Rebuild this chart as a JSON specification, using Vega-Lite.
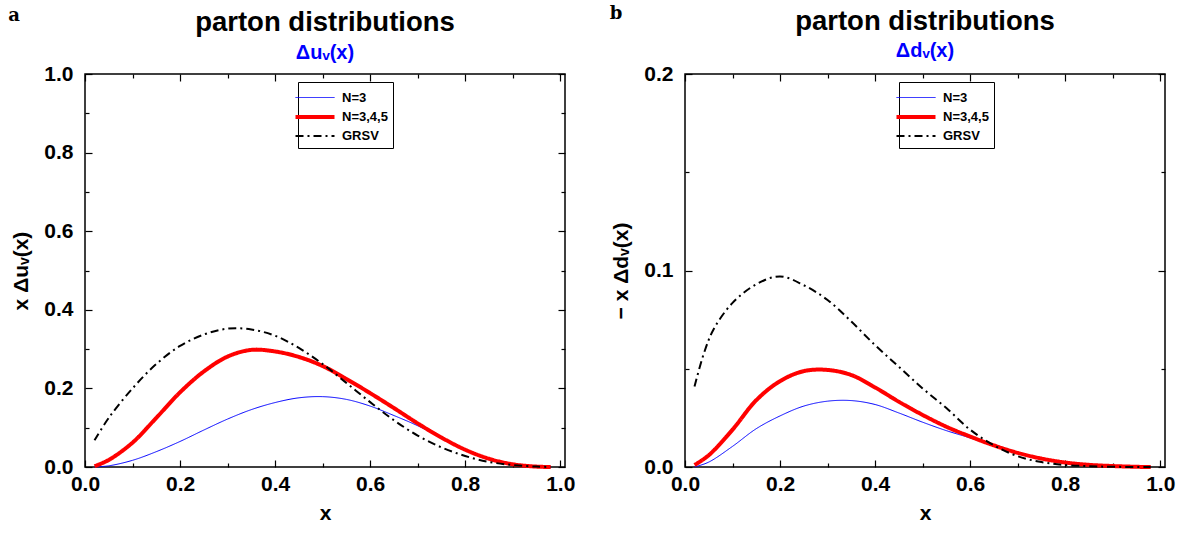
{
  "$schema": "https://vega.github.io/schema/vega-lite/v6.json",
  "background": "white",
  "padding": {"left": 7, "top": 4, "right": 5, "bottom": 5},
  "spacing": 33,
  "datasets": {
    "a": [
      {"series": "N=3", "x": 0.02, "y": 0.0003}, {"series": "N=3", "x": 0.05, "y": 0.003}, {"series": "N=3", "x": 0.1, "y": 0.017}, {"series": "N=3", "x": 0.15, "y": 0.039}, {"series": "N=3", "x": 0.2, "y": 0.065}, {"series": "N=3", "x": 0.25, "y": 0.094}, {"series": "N=3", "x": 0.3, "y": 0.122}, {"series": "N=3", "x": 0.35, "y": 0.146}, {"series": "N=3", "x": 0.4, "y": 0.164}, {"series": "N=3", "x": 0.45, "y": 0.176}, {"series": "N=3", "x": 0.5, "y": 0.179}, {"series": "N=3", "x": 0.55, "y": 0.172}, {"series": "N=3", "x": 0.6, "y": 0.155}, {"series": "N=3", "x": 0.65, "y": 0.131}, {"series": "N=3", "x": 0.7, "y": 0.105}, {"series": "N=3", "x": 0.75, "y": 0.074}, {"series": "N=3", "x": 0.8, "y": 0.045}, {"series": "N=3", "x": 0.85, "y": 0.022}, {"series": "N=3", "x": 0.9, "y": 0.007}, {"series": "N=3", "x": 0.95, "y": 0.001}, {"series": "N=3", "x": 0.98, "y": 0.0},
      {"series": "N=3,4,5", "x": 0.02, "y": 0.002}, {"series": "N=3,4,5", "x": 0.05, "y": 0.018}, {"series": "N=3,4,5", "x": 0.1, "y": 0.062}, {"series": "N=3,4,5", "x": 0.15, "y": 0.125}, {"series": "N=3,4,5", "x": 0.2, "y": 0.19}, {"series": "N=3,4,5", "x": 0.25, "y": 0.243}, {"series": "N=3,4,5", "x": 0.3, "y": 0.281}, {"series": "N=3,4,5", "x": 0.35, "y": 0.298}, {"series": "N=3,4,5", "x": 0.4, "y": 0.294}, {"series": "N=3,4,5", "x": 0.45, "y": 0.28}, {"series": "N=3,4,5", "x": 0.5, "y": 0.257}, {"series": "N=3,4,5", "x": 0.55, "y": 0.224}, {"series": "N=3,4,5", "x": 0.6, "y": 0.188}, {"series": "N=3,4,5", "x": 0.65, "y": 0.15}, {"series": "N=3,4,5", "x": 0.7, "y": 0.111}, {"series": "N=3,4,5", "x": 0.75, "y": 0.075}, {"series": "N=3,4,5", "x": 0.8, "y": 0.044}, {"series": "N=3,4,5", "x": 0.85, "y": 0.021}, {"series": "N=3,4,5", "x": 0.9, "y": 0.007}, {"series": "N=3,4,5", "x": 0.95, "y": 0.001}, {"series": "N=3,4,5", "x": 0.98, "y": 0.0},
      {"series": "GRSV", "x": 0.02, "y": 0.068}, {"series": "GRSV", "x": 0.05, "y": 0.125}, {"series": "GRSV", "x": 0.1, "y": 0.2}, {"series": "GRSV", "x": 0.15, "y": 0.262}, {"series": "GRSV", "x": 0.2, "y": 0.308}, {"series": "GRSV", "x": 0.25, "y": 0.337}, {"series": "GRSV", "x": 0.3, "y": 0.352}, {"series": "GRSV", "x": 0.35, "y": 0.35}, {"series": "GRSV", "x": 0.4, "y": 0.334}, {"series": "GRSV", "x": 0.45, "y": 0.303}, {"series": "GRSV", "x": 0.5, "y": 0.262}, {"series": "GRSV", "x": 0.55, "y": 0.214}, {"series": "GRSV", "x": 0.6, "y": 0.165}, {"series": "GRSV", "x": 0.65, "y": 0.119}, {"series": "GRSV", "x": 0.7, "y": 0.08}, {"series": "GRSV", "x": 0.75, "y": 0.05}, {"series": "GRSV", "x": 0.8, "y": 0.028}, {"series": "GRSV", "x": 0.85, "y": 0.013}, {"series": "GRSV", "x": 0.9, "y": 0.005}, {"series": "GRSV", "x": 0.95, "y": 0.001}, {"series": "GRSV", "x": 0.98, "y": 0.0}
    ],
    "b": [
      {"series": "N=3", "x": 0.02, "y": 0.0}, {"series": "N=3", "x": 0.05, "y": 0.0025}, {"series": "N=3", "x": 0.1, "y": 0.0105}, {"series": "N=3", "x": 0.15, "y": 0.0195}, {"series": "N=3", "x": 0.2, "y": 0.026}, {"series": "N=3", "x": 0.25, "y": 0.031}, {"series": "N=3", "x": 0.3, "y": 0.0335}, {"series": "N=3", "x": 0.35, "y": 0.0338}, {"series": "N=3", "x": 0.4, "y": 0.0318}, {"series": "N=3", "x": 0.45, "y": 0.0275}, {"series": "N=3", "x": 0.5, "y": 0.0228}, {"series": "N=3", "x": 0.55, "y": 0.0185}, {"series": "N=3", "x": 0.6, "y": 0.0148}, {"series": "N=3", "x": 0.65, "y": 0.0108}, {"series": "N=3", "x": 0.7, "y": 0.007}, {"series": "N=3", "x": 0.75, "y": 0.0042}, {"series": "N=3", "x": 0.8, "y": 0.0022}, {"series": "N=3", "x": 0.85, "y": 0.001}, {"series": "N=3", "x": 0.9, "y": 0.0004}, {"series": "N=3", "x": 0.95, "y": 0.0001}, {"series": "N=3", "x": 0.98, "y": 0.0},
      {"series": "N=3,4,5", "x": 0.02, "y": 0.001}, {"series": "N=3,4,5", "x": 0.05, "y": 0.006}, {"series": "N=3,4,5", "x": 0.1, "y": 0.019}, {"series": "N=3,4,5", "x": 0.15, "y": 0.034}, {"series": "N=3,4,5", "x": 0.2, "y": 0.0437}, {"series": "N=3,4,5", "x": 0.25, "y": 0.0488}, {"series": "N=3,4,5", "x": 0.3, "y": 0.0494}, {"series": "N=3,4,5", "x": 0.35, "y": 0.0468}, {"series": "N=3,4,5", "x": 0.4, "y": 0.0405}, {"series": "N=3,4,5", "x": 0.45, "y": 0.0332}, {"series": "N=3,4,5", "x": 0.5, "y": 0.0265}, {"series": "N=3,4,5", "x": 0.55, "y": 0.0205}, {"series": "N=3,4,5", "x": 0.6, "y": 0.0155}, {"series": "N=3,4,5", "x": 0.65, "y": 0.011}, {"series": "N=3,4,5", "x": 0.7, "y": 0.0072}, {"series": "N=3,4,5", "x": 0.75, "y": 0.0043}, {"series": "N=3,4,5", "x": 0.8, "y": 0.0023}, {"series": "N=3,4,5", "x": 0.85, "y": 0.0011}, {"series": "N=3,4,5", "x": 0.9, "y": 0.0005}, {"series": "N=3,4,5", "x": 0.95, "y": 0.0001}, {"series": "N=3,4,5", "x": 0.98, "y": 0.0},
      {"series": "GRSV", "x": 0.02, "y": 0.041}, {"series": "GRSV", "x": 0.04, "y": 0.058}, {"series": "GRSV", "x": 0.06, "y": 0.07}, {"series": "GRSV", "x": 0.1, "y": 0.0835}, {"series": "GRSV", "x": 0.15, "y": 0.093}, {"series": "GRSV", "x": 0.2, "y": 0.097}, {"series": "GRSV", "x": 0.25, "y": 0.0925}, {"series": "GRSV", "x": 0.3, "y": 0.085}, {"series": "GRSV", "x": 0.35, "y": 0.074}, {"series": "GRSV", "x": 0.4, "y": 0.062}, {"series": "GRSV", "x": 0.45, "y": 0.051}, {"series": "GRSV", "x": 0.5, "y": 0.04}, {"series": "GRSV", "x": 0.55, "y": 0.03}, {"series": "GRSV", "x": 0.6, "y": 0.019}, {"series": "GRSV", "x": 0.65, "y": 0.011}, {"series": "GRSV", "x": 0.7, "y": 0.0055}, {"series": "GRSV", "x": 0.75, "y": 0.0025}, {"series": "GRSV", "x": 0.8, "y": 0.001}, {"series": "GRSV", "x": 0.85, "y": 0.0004}, {"series": "GRSV", "x": 0.9, "y": 0.0001}, {"series": "GRSV", "x": 0.98, "y": 0.0}
    ]
  },
  "config": {
    "font": "Liberation Sans",
    "view": {"stroke": "black", "strokeWidth": 1.5},
    "axis": {"labelFont": "Liberation Sans", "labelFontWeight": "bold", "labelFontSize": 21, "labelColor": "black", "labelFlush": false, "titleFont": "Liberation Sans", "titleFontWeight": "bold", "titleFontSize": 21, "titleColor": "black", "tickColor": "black", "tickWidth": 1.2, "grid": false, "domain": false},
    "title": {"font": "Liberation Sans", "fontWeight": "bold", "fontSize": 27.5, "color": "black", "subtitleFont": "Liberation Sans", "subtitleFontWeight": "bold", "subtitleFontSize": 20, "subtitleColor": "#0000ff", "subtitlePadding": 6, "offset": -56, "anchor": "middle"},
    "legend": {"orient": "none", "legendY": 8, "strokeColor": "black", "fillColor": "white", "padding": 5, "symbolType": "M-1.95,0H1.95", "symbolSize": 400, "labelFont": "Liberation Sans", "labelFontWeight": "bold", "labelFontSize": 13, "labelColor": "black", "rowPadding": 0, "labelOffset": 15, "titleOrient": "right", "titlePadding": 0, "titleFontSize": 13, "titleFont": "Liberation Sans"}
  },
  "resolve": {
    "scale": {"x": "independent", "y": "independent", "color": "independent", "strokeDash": "independent", "strokeWidth": "independent"},
    "legend": {"color": "independent", "strokeDash": "independent", "strokeWidth": "independent"}
  },
  "hconcat": [
    {
      "width": 480,
      "height": 393,
      "title": {"text": "parton distributions", "subtitle": "Δuᵥ(x)"},
      "resolve": {"axis": {"x": "independent", "y": "independent"}},
      "layer": [
        {
          "data": {"name": "a"},
          "mark": {"type": "line", "interpolate": "catmull-rom"},
          "encoding": {
            "x": {"field": "x", "type": "quantitative", "title": "x", "scale": {"domain": [0, 1.01], "nice": false, "zero": false},
              "axis": {"orient": "bottom", "values": [0, 0.1, 0.2, 0.3, 0.4, 0.5, 0.6, 0.7, 0.8, 0.9, 1.0], "labelExpr": "round(datum.value*10)%2==0 ? format(datum.value,'.1f') : ''", "tickSize": {"condition": {"test": "round(datum.value*10)%2==1", "value": -4}, "value": -7}, "labelPadding": 13, "titlePadding": 8}},
            "y": {"field": "y", "type": "quantitative", "title": "x Δuᵥ(x)", "scale": {"domain": [0, 1], "nice": false},
              "axis": {"orient": "left", "values": [0, 0.1, 0.2, 0.3, 0.4, 0.5, 0.6, 0.7, 0.8, 0.9, 1.0], "labelExpr": "round(datum.value*10)%2==0 ? format(datum.value,'.1f') : ''", "tickSize": {"condition": {"test": "round(datum.value*10)%2==1", "value": -4}, "value": -7}, "labelPadding": 19, "titlePadding": 12}},
            "color": {"field": "series", "type": "nominal", "scale": {"domain": ["N=3", "N=3,4,5", "GRSV"], "range": ["#0000ff", "#ff0000", "#000000"]}, "legend": {"legendX": 213, "title": "\u00a0\u00a0\u00a0\u00a0"}},
            "strokeDash": {"field": "series", "type": "nominal", "scale": {"domain": ["N=3", "N=3,4,5", "GRSV"], "range": [[1, 0], [1, 0], [8, 4, 2, 4]]}, "legend": {"legendX": 213, "title": "\u00a0\u00a0\u00a0\u00a0"}},
            "strokeWidth": {"field": "series", "type": "nominal", "scale": {"type": "ordinal", "domain": ["N=3", "N=3,4,5", "GRSV"], "range": [1, 4, 2]}, "legend": {"legendX": 213, "title": "\u00a0\u00a0\u00a0\u00a0"}}
          }
        },
        {
          "data": {"values": [{"lab": "a"}]},
          "mark": {"type": "text", "font": "DejaVu Serif", "fontWeight": "bold", "fontSize": 18, "align": "center", "baseline": "middle"},
          "encoding": {
            "text": {"field": "lab"},
            "x": {"datum": -0.149, "type": "quantitative", "axis": {"orient": "top", "labels": false, "title": null, "values": [0, 0.1, 0.2, 0.3, 0.4, 0.5, 0.6, 0.7, 0.8, 0.9, 1.0], "tickSize": {"condition": {"test": "round(datum.value*10)%2==1", "value": -4}, "value": -7}}},
            "y": {"datum": 1.148, "type": "quantitative", "axis": {"orient": "right", "labels": false, "title": null, "values": [0, 0.1, 0.2, 0.3, 0.4, 0.5, 0.6, 0.7, 0.8, 0.9, 1.0], "tickSize": {"condition": {"test": "round(datum.value*10)%2==1", "value": -4}, "value": -7}}}
          }
        }
      ]
    },
    {
      "width": 480,
      "height": 393,
      "title": {"text": "parton distributions", "subtitle": "Δdᵥ(x)"},
      "resolve": {"axis": {"x": "independent", "y": "independent"}},
      "layer": [
        {
          "data": {"name": "b"},
          "mark": {"type": "line", "interpolate": "catmull-rom"},
          "encoding": {
            "x": {"field": "x", "type": "quantitative", "title": "x", "scale": {"domain": [0, 1.01], "nice": false, "zero": false},
              "axis": {"orient": "bottom", "values": [0, 0.1, 0.2, 0.3, 0.4, 0.5, 0.6, 0.7, 0.8, 0.9, 1.0], "labelExpr": "round(datum.value*10)%2==0 ? format(datum.value,'.1f') : ''", "tickSize": {"condition": {"test": "round(datum.value*10)%2==1", "value": -4}, "value": -7}, "labelPadding": 13, "titlePadding": 8}},
            "y": {"field": "y", "type": "quantitative", "title": "− x Δdᵥ(x)", "scale": {"domain": [0, 0.2], "nice": false},
              "axis": {"orient": "left", "values": [0, 0.05, 0.1, 0.15, 0.2], "labelExpr": "round(datum.value*20)%2==0 ? format(datum.value,'.1f') : ''", "tickSize": {"condition": {"test": "round(datum.value*20)%2==1", "value": -4}, "value": -7}, "labelPadding": 19, "titlePadding": 12}},
            "color": {"field": "series", "type": "nominal", "scale": {"domain": ["N=3", "N=3,4,5", "GRSV"], "range": ["#0000ff", "#ff0000", "#000000"]}, "legend": {"legendX": 214, "title": "\u00a0\u00a0\u00a0\u00a0"}},
            "strokeDash": {"field": "series", "type": "nominal", "scale": {"domain": ["N=3", "N=3,4,5", "GRSV"], "range": [[1, 0], [1, 0], [8, 4, 2, 4]]}, "legend": {"legendX": 214, "title": "\u00a0\u00a0\u00a0\u00a0"}},
            "strokeWidth": {"field": "series", "type": "nominal", "scale": {"type": "ordinal", "domain": ["N=3", "N=3,4,5", "GRSV"], "range": [1, 4, 2]}, "legend": {"legendX": 214, "title": "\u00a0\u00a0\u00a0\u00a0"}}
          }
        },
        {
          "data": {"values": [{"lab": "b"}]},
          "mark": {"type": "text", "font": "DejaVu Serif", "fontWeight": "bold", "fontSize": 18, "align": "center", "baseline": "middle"},
          "encoding": {
            "text": {"field": "lab"},
            "x": {"datum": -0.145, "type": "quantitative", "axis": {"orient": "top", "labels": false, "title": null, "values": [0, 0.1, 0.2, 0.3, 0.4, 0.5, 0.6, 0.7, 0.8, 0.9, 1.0], "tickSize": {"condition": {"test": "round(datum.value*10)%2==1", "value": -4}, "value": -7}}},
            "y": {"datum": 0.2305, "type": "quantitative", "axis": {"orient": "right", "labels": false, "title": null, "values": [0, 0.05, 0.1, 0.15, 0.2], "tickSize": {"condition": {"test": "round(datum.value*20)%2==1", "value": -4}, "value": -7}}}
          }
        }
      ]
    }
  ]
}
